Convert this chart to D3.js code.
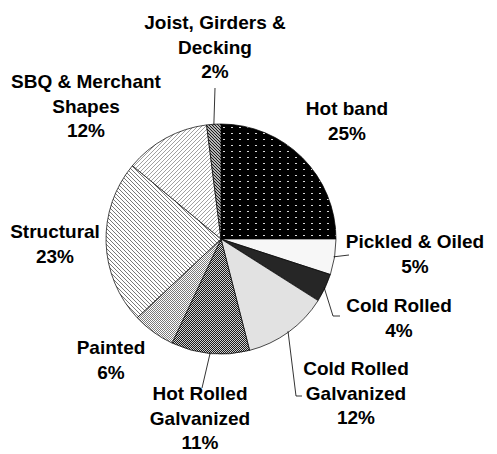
<!DOCTYPE html>
<html>
<head>
<meta charset="utf-8">
<script src="https://cdn.jsdelivr.net/npm/d3@7"></script>
<style>
  html, body { margin: 0; padding: 0; background: #fff; }
  svg text { font-family: "Liberation Sans", Arial, sans-serif; font-weight: bold; font-size: 19px; fill: #000; }
</style>
</head>
<body>
<div id="chart"></div>
<script>
// data
const categories = ["Hot band", "Pickled & Oiled", "Cold Rolled", "Cold Rolled Galvanized",
  "Hot Rolled Galvanized", "Painted", "Structural", "SBQ & Merchant Shapes", "Joist, Girders & Decking"];
const shares = [25, 5, 4, 12, 11, 6, 23, 12, 2];
const labelLines = [["Hot band"], ["Pickled & Oiled"], ["Cold Rolled"], ["Cold Rolled", "Galvanized"],
  ["Hot Rolled", "Galvanized"], ["Painted"], ["Structural"], ["SBQ & Merchant", "Shapes"], ["Joist, Girders &", "Decking"]];

// layout (label anchors: center x, first baseline y) and leader ends
const labelPos = [[347, 115], [415, 248], [399, 312], [356, 375], [200, 400], [111, 354], [55, 238], [86, 88], [215, 29]];
const leaders = [null, [[349, 255]], [[333, 316], [340, 316]], [[296, 396], [302, 396]], [[202, 388]], null, null, null, [[215, 88]]];
const fills = ["url(#pHot)", "#f7f7f7", "#262626", "#e2e2e2", "url(#pHrg)", "url(#pPaint)", "url(#pStruct)", "url(#pSbq)", "url(#pJoist)"];

const W = 497, H = 454, cx = 221, cy = 239, R = 115;

const svg = d3.select("#chart").append("svg")
  .attr("width", W).attr("height", H)
  .attr("viewBox", `0 0 ${W} ${H}`);

// patterns
const defs = svg.append("defs");
function pat(id, w, h) {
  return defs.append("pattern").attr("id", id)
    .attr("patternUnits", "userSpaceOnUse").attr("width", w).attr("height", h);
}
function checker(p, w, h, bg, fg, cells) {
  p.append("rect").attr("width", w).attr("height", h).attr("fill", bg);
  cells.forEach(([x, y]) =>
    p.append("rect").attr("x", x).attr("y", y).attr("width", 1).attr("height", 1).attr("fill", fg));
}

let p = pat("pHot", 8, 6);
p.append("rect").attr("width", 8).attr("height", 6).attr("fill", "#000");
p.append("rect").attr("x", 2).attr("y", 2).attr("width", 2).attr("height", 1).attr("fill", "#d8d8d8");

// dark weave
checker(pat("pHrg", 4, 4), 4, 4, "#1a1a1a", "#d0d0d0",
  [[0, 0], [2, 0], [1, 1], [3, 1], [0, 2], [2, 2], [1, 3], [3, 3]]);

// light weave
checker(pat("pPaint", 4, 4), 4, 4, "#fff", "#7a7a7a",
  [[0, 0], [2, 0], [1, 1], [3, 1], [0, 2], [2, 2], [1, 3], [3, 3]]);

p = pat("pStruct", 4, 4);
p.append("rect").attr("width", 4).attr("height", 4).attr("fill", "#fff");
p.append("path").attr("d", "M-1,3 l2,2 M0,0 l4,4 M3,-1 l2,2").attr("stroke", "#555").attr("stroke-width", 0.8);

p = pat("pSbq", 4, 4);
p.append("rect").attr("width", 4).attr("height", 4).attr("fill", "#fff");
p.append("path").attr("d", "M-1,1 l2,-2 M0,4 l4,-4 M3,5 l2,-2").attr("stroke", "#777").attr("stroke-width", 0.7);

p = pat("pJoist", 3, 3);
p.append("rect").attr("width", 3).attr("height", 3).attr("fill", "#fff");
p.append("path").attr("d", "M-1,2 l2,2 M0,0 l3,3 M2,-1 l2,2").attr("stroke", "#111").attr("stroke-width", 1.2);

// pie
const data = categories.map((c, i) => ({ cat: c, value: shares[i], i }));
const pie = d3.pie().value(d => d.value).sort(null);
const arcs = pie(data);
const arc = d3.arc().innerRadius(0).outerRadius(R);

const g = svg.append("g").attr("transform", `translate(${cx},${cy})`);
g.selectAll("path.slice")
  .data(arcs)
  .join("path")
  .attr("class", "slice")
  .attr("d", arc)
  .attr("fill", d => fills[d.data.i])
  .attr("stroke", "#000")
  .attr("stroke-width", 0.7);

// leader lines
const edgeArc = d3.arc().innerRadius(R - 1).outerRadius(R - 1);
arcs.forEach(a => {
  const pts = leaders[a.data.i];
  if (!pts) return;
  const [ex, ey] = edgeArc.centroid(a);
  svg.append("path")
    .attr("d", d3.line()([[cx + ex, cy + ey], ...pts]))
    .attr("fill", "none")
    .attr("stroke", "#000")
    .attr("stroke-width", 0.8);
});

// labels
const lh = 24.5;
arcs.forEach(a => {
  const i = a.data.i;
  const [lx, ly] = labelPos[i];
  const lines = labelLines[i].concat([shares[i] + "%"]);
  const t = svg.append("text").attr("text-anchor", "middle");
  lines.forEach((s, k) => {
    t.append("tspan").attr("x", lx).attr("y", ly + k * lh).text(s);
  });
});
</script>
</body>
</html>
